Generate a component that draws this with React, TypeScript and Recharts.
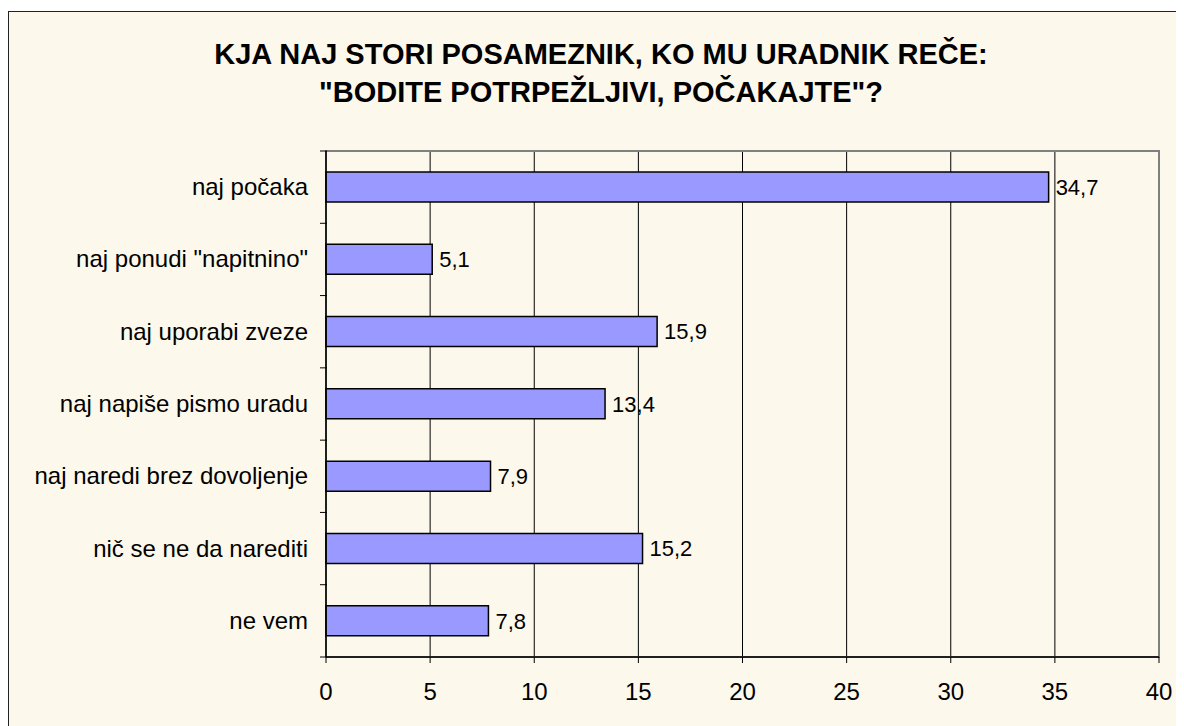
import React from "react"
import { BarChart, Bar, XAxis, YAxis, CartesianGrid, LabelList, ReferenceArea } from "recharts"

const categories = [
  "naj počaka",
  "naj ponudi \"napitnino\"",
  "naj uporabi zveze",
  "naj napiše pismo uradu ",
  "naj naredi brez dovoljenje",
  "nič se ne da narediti",
  "ne vem",
]
const values = [34.7, 5.1, 15.9, 13.4, 7.9, 15.2, 7.8]
const xTicks = [0, 5, 10, 15, 20, 25, 30, 35, 40]
const titleLines = [
  "KJA NAJ STORI POSAMEZNIK, KO MU URADNIK REČE:",
  "\"BODITE POTRPEŽLJIVI, POČAKAJTE\"?",
]

const data = categories.map((name, i) => ({ name, value: values[i] }))

const W = 1175
const H = 714
const xAxisH = 30
const margin = { top: 139, right: 25, bottom: 39, left: 0 }
const plotH = H - margin.top - margin.bottom - xAxisH
const halfBand = plotH / categories.length / 2
const font = "'Liberation Sans', Arial, sans-serif"

function CatTick(props: any) {
  const { x, y, payload, index } = props
  const last = index === categories.length - 1
  return (
    <g>
      <line x1={x + 2} x2={x + 9} y1={y - halfBand} y2={y - halfBand} stroke="#000" />
      {last && <line x1={x + 2} x2={x + 9} y1={y + halfBand} y2={y + halfBand} stroke="#000" />}
      <text x={x - 10} y={y} dy={8} textAnchor="end" fontSize={24} fill="#000" fontFamily={font}>
        {payload.value}
      </text>
    </g>
  )
}

export default function App() {
  return (
    <div
      style={{
        position: "relative",
        marginTop: 3,
        width: 1180,
        height: 720,
        borderLeft: "1px solid #222",
        borderTop: "1px solid #222",
        background: "#FDF8EC",
        fontFamily: font,
      }}
    >
      <div
        style={{
          position: "absolute",
          left: 0,
          top: 23,
          width: 1184,
          textAlign: "center",
          fontWeight: "bold",
          fontSize: 29,
          lineHeight: "38px",
          color: "#000",
        }}
      >
        {titleLines.map((t) => (
          <div key={t}>{t}</div>
        ))}
      </div>
      <div style={{ position: "absolute", left: 0, top: 0 }}>
        <BarChart width={W} height={H} data={data} layout="vertical" margin={margin} barSize={30}>
          <CartesianGrid horizontal={false} stroke="#000" strokeWidth={1} />
          <ReferenceArea x1={0} x2={40} fill="none" stroke="#808080" strokeWidth={2} />
          <XAxis
            type="number"
            domain={[0, 40]}
            ticks={xTicks}
            interval={0}
            height={xAxisH}
            axisLine={{ stroke: "#000", strokeWidth: 1.5 }}
            tickLine={{ stroke: "#000" }}
            tickSize={6}
            tick={{ fill: "#000", fontSize: 24, fontFamily: font }}
            tickMargin={20}
          />
          <YAxis
            type="category"
            dataKey="name"
            width={317}
            axisLine={{ stroke: "#000", strokeWidth: 1.5 }}
            tickLine={false}
            tick={<CatTick />}
            interval={0}
          />
          <Bar dataKey="value" fill="#9999FF" stroke="#000" strokeWidth={1.5} isAnimationActive={false}>
            <LabelList
              dataKey="value"
              position="right"
              offset={7}
              formatter={(v: any) => String(v).replace(".", ",")}
              style={{ fill: "#000", fontSize: 22, fontFamily: font }}
            />
          </Bar>
        </BarChart>
      </div>
    </div>
  )
}
